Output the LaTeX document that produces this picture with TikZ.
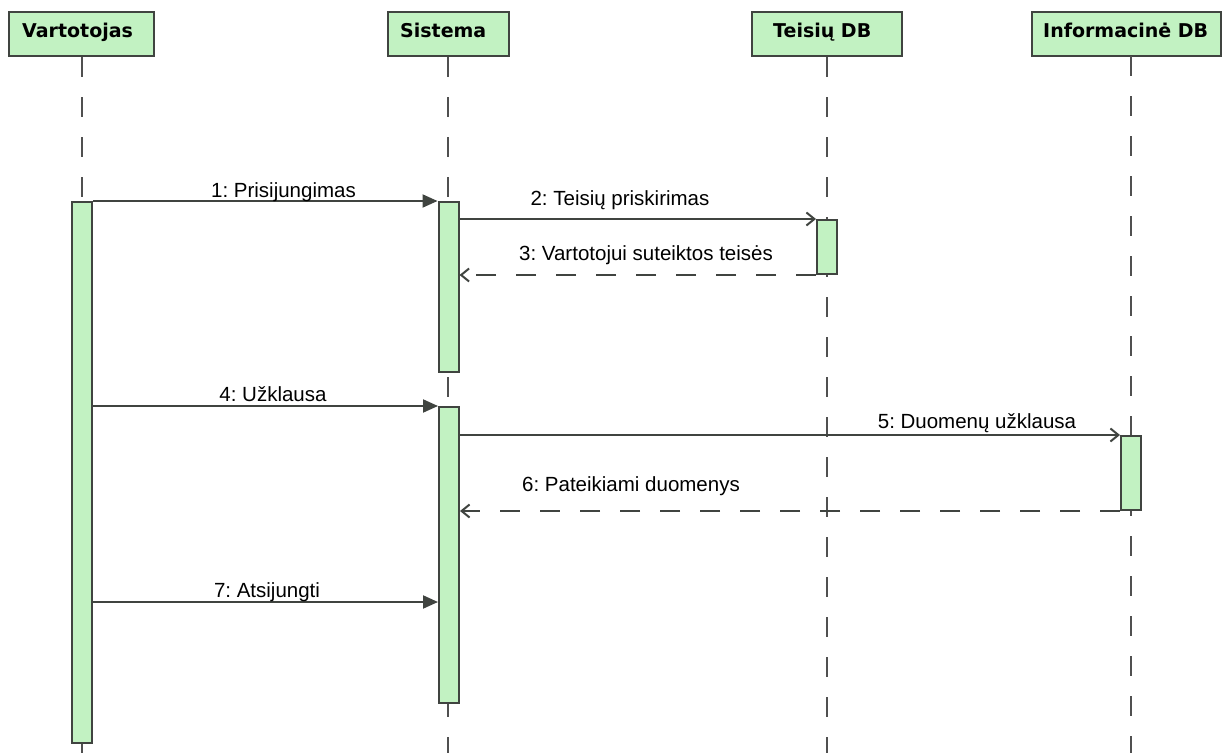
\documentclass[tikz,border=0pt]{standalone}
\usepackage{fontspec}
\setmainfont{Liberation Sans}
\newfontfamily\headfont{DejaVu Sans}
\usetikzlibrary{arrows.meta}
\frenchspacing

\definecolor{actfill}{HTML}{C2F2C2}
\definecolor{edge}{HTML}{404440}
\definecolor{lifegray}{HTML}{505050}

\begin{document}
\begin{tikzpicture}[x=1bp,y=-1bp,
  head/.style={draw=edge, fill=actfill, line width=2bp, minimum height=44bp, inner sep=0pt},
  headtext/.style={font=\headfont\bfseries\fontsize{19bp}{22bp}\selectfont, anchor=base west, inner sep=0pt, text=black},
  bar/.style={draw=edge, fill=actfill, line width=2bp, minimum width=20bp, inner sep=0pt},
  life/.style={draw=lifegray, line width=2bp, dash pattern=on 20bp off 20bp},
  call/.style={draw=edge, line width=2bp, -{Triangle[length=15bp,width=13bp]}},
  send/.style={draw=edge, line width=2bp, -{Straight Barb[length=8bp,width=13bp]}},
  reply/.style={send, dash pattern=on 20bp off 20bp},
  msgtext/.style={font=\fontsize{20.5bp}{24bp}\selectfont, anchor=base, inner sep=0pt, text=black}]

\fill[white] (0,0) rectangle (1224,753);
\useasboundingbox (0,0) rectangle (1224,753);

% participant heads
\node[head, minimum width=145bp] (vh) at (81.5,34) {};
\node[head, minimum width=121bp] (sh) at (448,34) {};
\node[head, minimum width=150bp] (th) at (827,34) {};
\node[head, minimum width=189bp] (ih) at (1126.5,34) {};
\node[headtext] (vht) at (22,38) {Vartotojas};
\node[headtext] (sht) at (400,38) {Sistema};
\node[headtext] (tht) at (773,38) {Teisių DB};
\node[headtext] (iht) at (1043,38) {Informacinė DB};

% lifelines
\coordinate (bottom) at (0,753);
\coordinate (ilife) at (1131,56);
\draw[life] (vh.south) -- (vh.south |- bottom);
\draw[life] (sh.south) -- (sh.south |- bottom);
\draw[life] (th.south) -- (th.south |- bottom);
\draw[life] (ilife) -- (ilife |- bottom);

% activation bars
\node[bar, minimum height=541bp] (va) at (82,472.5) {};
\node[bar, minimum height=170bp] (s1) at (448.5,287) {};
\node[bar, minimum height=54bp]  (tb) at (827,247) {};
\node[bar, minimum height=296bp] (s2) at (449,555) {};
\node[bar, minimum height=74bp]  (ib) at (1131,473) {};

% messages
\coordinate (m7) at (0,602);
\draw[call]  (va.east |- s1.north) -- (s1.north west);
\draw[send]  (s1.east |- tb.north) -- (tb.north west);
\draw[reply] (tb.south west) -- (s1.east |- tb.south);
\draw[call]  (va.east |- s2.north) -- (s2.north west);
\draw[send]  (s2.east |- ib.north) -- (ib.north west);
\draw[reply] (ib.south west) -- (s2.east |- ib.south);
\draw[call]  (va.east |- m7) -- (s2.west |- m7);

% message labels
\node[msgtext] (l1) at (283.5,197) {1: Prisijungimas};
\node[msgtext] (l2) at (620,205) {2: Teisių priskirimas};
\node[msgtext] (l3) at (646,260) {3: Vartotojui suteiktos teisės};
\node[msgtext] (l4) at (273,401) {4: Užklausa};
\node[msgtext] (l5) at (977,428) {5: Duomenų užklausa};
\node[msgtext] (l6) at (631,491) {6: Pateikiami duomenys};
\node[msgtext] (l7) at (267,597) {7: Atsijungti};
\end{tikzpicture}
\end{document}
